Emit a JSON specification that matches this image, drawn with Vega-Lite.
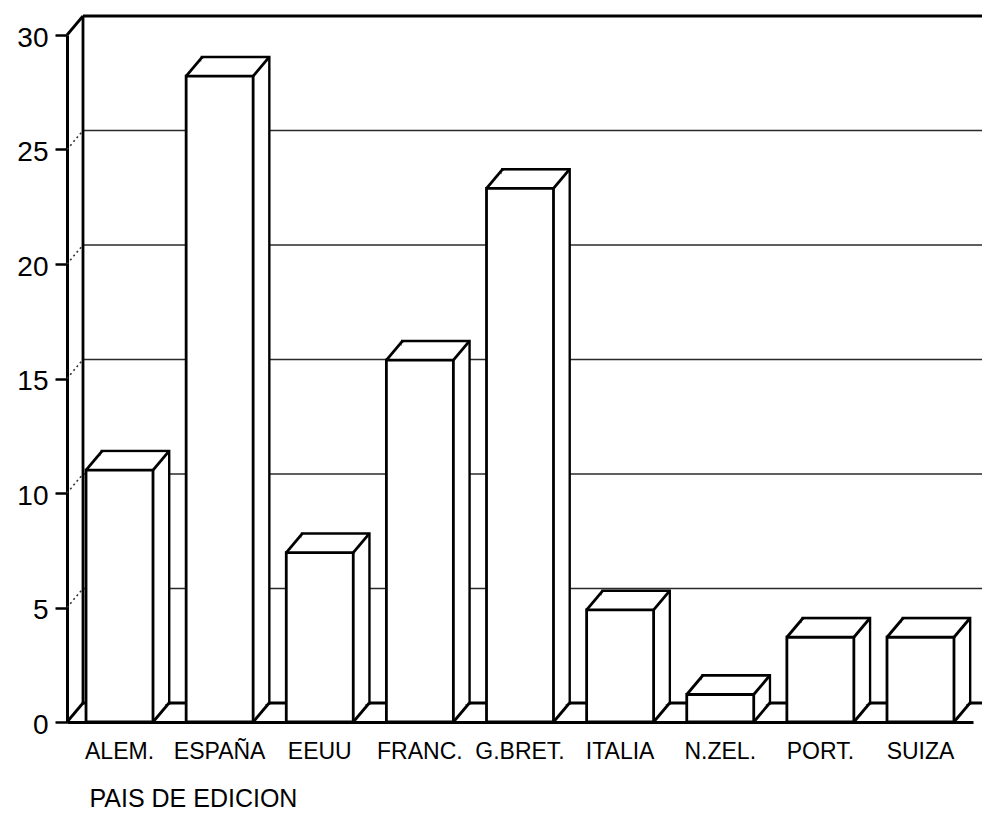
{
  "$schema": "https://vega.github.io/schema/vega-lite/v6.json",
  "autosize": "none",
  "padding": {"left": 67, "top": 35, "right": 9, "bottom": 100},
  "width": 906,
  "height": 687,
  "background": "white",
  "config": {
    "view": {"stroke": null},
    "font": "Liberation Sans"
  },
  "datasets": {
    "paises": [
      {"pais": "ALEM.", "pct": 11.0},
      {"pais": "ESPAÑA", "pct": 28.2},
      {"pais": "EEUU", "pct": 7.4},
      {"pais": "FRANC.", "pct": 15.8},
      {"pais": "G.BRET.", "pct": 23.3},
      {"pais": "ITALIA", "pct": 4.9},
      {"pais": "N.ZEL.", "pct": 1.2},
      {"pais": "PORT.", "pct": 3.7},
      {"pais": "SUIZA", "pct": 3.7}
    ],
    "grid": [{"v": 0}, {"v": 5}, {"v": 10}, {"v": 15}, {"v": 20}, {"v": 25}, {"v": 30}]
  },
  "layer": [
    {
      "data": {"name": "grid"},
      "transform": [{"filter": "datum.v > 0 && datum.v < 30"}],
      "mark": {"type": "rule", "color": "#2a2a2a", "strokeWidth": 1.7, "xOffset": 16, "x2Offset": 16, "yOffset": -19},
      "encoding": {
        "y": {"field": "v", "type": "quantitative", "scale": {"domain": [0, 30], "nice": false, "zero": true}},
        "x": {"value": 0},
        "x2": {"value": "width"}
      }
    },
    {
      "data": {"name": "grid"},
      "transform": [{"filter": "datum.v == 0 || datum.v == 30"}],
      "mark": {"type": "rule", "color": "black", "strokeWidth": 2.8, "xOffset": 16, "x2Offset": 16, "yOffset": -19},
      "encoding": {
        "y": {"field": "v", "type": "quantitative"},
        "x": {"value": 0},
        "x2": {"value": "width"}
      }
    },
    {
      "data": {"name": "grid"},
      "transform": [{"filter": "datum.v > 0 && datum.v < 30"}],
      "mark": {"type": "rule", "color": "#333", "strokeWidth": 1.6, "strokeDash": [2, 3], "y2Offset": -19},
      "encoding": {
        "y": {"field": "v", "type": "quantitative"},
        "y2": {"field": "v"},
        "x": {"value": 0},
        "x2": {"value": 16}
      }
    },
    {
      "data": {"name": "grid"},
      "transform": [{"filter": "datum.v == 0 || datum.v == 30"}],
      "mark": {"type": "rule", "color": "black", "strokeWidth": 2.8, "y2Offset": -19},
      "encoding": {
        "y": {"field": "v", "type": "quantitative"},
        "y2": {"field": "v"},
        "x": {"value": 0},
        "x2": {"value": 16}
      }
    },
    {
      "data": {"name": "grid"},
      "transform": [{"filter": "datum.v == 30"}],
      "mark": {"type": "rule", "color": "black", "strokeWidth": 2.8, "yOffset": -19, "y2Offset": -19},
      "encoding": {
        "y": {"field": "v", "type": "quantitative"},
        "y2": {"datum": 0},
        "x": {"value": 16}
      }
    },
    {
      "data": {"name": "paises"},
      "mark": {"type": "bar", "fill": "white", "stroke": "black", "strokeWidth": 2.8, "xOffset": 16, "yOffset": -19, "y2Offset": -19},
      "encoding": {
        "x": {"field": "pais", "type": "nominal", "sort": null, "scale": {"paddingInner": 0.331, "paddingOuter": 0.19},
          "axis": {"labelAngle": 0, "labelFontSize": 23, "labelColor": "black", "labelPadding": 18, "ticks": false,
            "domainColor": "black", "domainWidth": 3, "title": "PAIS DE EDICION", "titleFontSize": 25, "titleFontWeight": "normal",
            "titleColor": "black", "titleAnchor": "start", "titleAlign": "left", "titleX": 22, "titleY": 84, "titleBaseline": "alphabetic"}},
        "y": {"field": "pct", "type": "quantitative",
          "axis": {"values": [0, 5, 10, 15, 20, 25, 30], "grid": false, "title": null, "labelFontSize": 28, "labelColor": "black",
            "labelPadding": 7, "labelOffset": 3, "tickSize": 12, "tickWidth": 2.5, "tickColor": "black", "domainColor": "black", "domainWidth": 3}}
      }
    },
    {
      "data": {"name": "paises"},
      "mark": {"type": "bar", "fill": "white", "strokeWidth": 0, "xOffset": 15, "yOffset": -17.8, "y2Offset": -17.8},
      "encoding": {"x": {"field": "pais", "type": "nominal", "sort": null}, "y": {"field": "pct", "type": "quantitative"}}
    },
    {
      "data": {"name": "paises"},
      "mark": {"type": "bar", "fill": "white", "strokeWidth": 0, "xOffset": 12, "yOffset": -14.25, "y2Offset": -14.25},
      "encoding": {"x": {"field": "pais", "type": "nominal", "sort": null}, "y": {"field": "pct", "type": "quantitative"}}
    },
    {
      "data": {"name": "paises"},
      "mark": {"type": "bar", "fill": "white", "strokeWidth": 0, "xOffset": 8, "yOffset": -9.5, "y2Offset": -9.5},
      "encoding": {"x": {"field": "pais", "type": "nominal", "sort": null}, "y": {"field": "pct", "type": "quantitative"}}
    },
    {
      "data": {"name": "paises"},
      "mark": {"type": "bar", "fill": "white", "strokeWidth": 0, "xOffset": 4, "yOffset": -4.75, "y2Offset": -4.75},
      "encoding": {"x": {"field": "pais", "type": "nominal", "sort": null}, "y": {"field": "pct", "type": "quantitative"}}
    },
    {
      "data": {"name": "paises"},
      "mark": {"type": "bar", "fill": "white", "stroke": "black", "strokeWidth": 2.8},
      "encoding": {"x": {"field": "pais", "type": "nominal", "sort": null}, "y": {"field": "pct", "type": "quantitative"}}
    },
    {
      "data": {"name": "paises"},
      "mark": {"type": "rule", "color": "black", "strokeWidth": 2.8, "x2Offset": 16, "y2Offset": -19},
      "encoding": {
        "x": {"field": "pais", "type": "nominal", "sort": null, "bandPosition": 0},
        "x2": {"field": "pais", "bandPosition": 0},
        "y": {"field": "pct", "type": "quantitative"},
        "y2": {"field": "pct"}
      }
    },
    {
      "data": {"name": "paises"},
      "mark": {"type": "rule", "color": "black", "strokeWidth": 2.8, "x2Offset": 16, "y2Offset": -19},
      "encoding": {
        "x": {"field": "pais", "type": "nominal", "sort": null, "bandPosition": 1},
        "x2": {"field": "pais", "bandPosition": 1},
        "y": {"field": "pct", "type": "quantitative"},
        "y2": {"field": "pct"}
      }
    },
    {
      "data": {"name": "paises"},
      "mark": {"type": "rule", "color": "black", "strokeWidth": 2.8, "x2Offset": 16, "y2Offset": -19},
      "encoding": {
        "x": {"field": "pais", "type": "nominal", "sort": null, "bandPosition": 1},
        "x2": {"field": "pais", "bandPosition": 1},
        "y": {"datum": 0},
        "y2": {"datum": 0}
      }
    }
  ]
}
